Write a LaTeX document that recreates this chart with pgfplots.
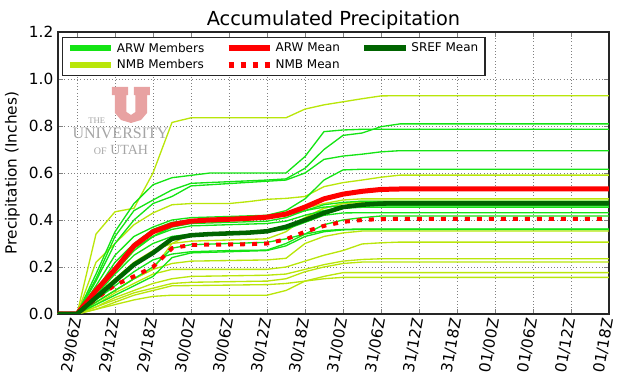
\documentclass[border=0pt]{standalone}
\usepackage{fontspec}
\setmainfont{DejaVu Sans}
\newfontfamily\logofont{Liberation Serif}
\usepackage{pgfplots}
\pgfplotsset{compat=1.18}
\definecolor{arwc}{RGB}{20,228,20}
\definecolor{nmbc}{RGB}{185,230,10}
\definecolor{srefc}{RGB}{0,100,0}
\definecolor{logored}{RGB}{232,162,162}
\definecolor{logogray}{RGB}{165,165,165}
\pgfplotsset{
  arw/.style={arwc, line width=1pt, forget plot},
  nmb/.style={nmbc, line width=1pt, forget plot},
}
\begin{document}
\begin{tikzpicture}
\useasboundingbox (-43.5pt,-48pt) rectangle (436.5pt,235.5pt);
\begin{axis}[
  at={(0,0)}, anchor=south west,
  scale only axis, width=413.25pt, height=211.5pt,
  xmin=3, xmax=90, ymin=0, ymax=1.2,
  xtick={6,12,18,24,30,36,42,48,54,60,66,72,78,84,90},
  xticklabels={29/06Z,29/12Z,29/18Z,30/00Z,30/06Z,30/12Z,30/18Z,31/00Z,31/06Z,31/12Z,31/18Z,01/00Z,01/06Z,01/12Z,01/18Z},
  ytick={0,0.2,0.4,0.6,0.8,1.0,1.2},
  yticklabel style={/pgf/number format/.cd, fixed, fixed zerofill, precision=1},
  /pgf/number format/assume math mode=true,
  tick label style={font=\fontsize{11.5}{13}\selectfont},
  xticklabel style={rotate=80, anchor=east},
  tick align=inside, tick pos=both,
  major tick length=4pt,
  grid=major, grid style={dotted, gray, line width=0.6pt},
  axis line style={black!85, line width=0.8pt},
  title={Accumulated Precipitation},
  title style={font=\fontsize{14.5}{16}\selectfont, yshift=-7.5pt},
  ylabel={Precipitation (Inches)},
  ylabel style={font=\fontsize{11.5}{13}\selectfont},
  no markers,
  legend columns=3,
  legend cell align=left,
  legend style={at={(0.008,0.982)}, anchor=north west, font=\fontsize{9}{11}\selectfont,
    draw=black!85, line width=0.8pt, fill=white,
    /tikz/every even column/.append style={column sep=14pt},
    inner xsep=3pt, inner ysep=2pt},
  legend image code/.code={\draw[#1] (0pt,0pt) -- (31pt,0pt);},
]
% watermark logo
\fill[logored] (11.526,0.966) -- (14.053,0.966) -- (14.053,0.9319) -- (13.816,0.9319)
  -- (13.816,0.8596) -- (14.526,0.8468) -- (15.237,0.8596) -- (15.237,0.9319)
  -- (15.0,0.9319) -- (15.0,0.966) -- (17.526,0.966) -- (17.526,0.9319)
  -- (17.053,0.9319) -- (17.053,0.8553) -- (16.105,0.8255) -- (14.526,0.8128)
  -- (12.947,0.8255) -- (12.0,0.8553) -- (12.0,0.9319) -- (11.526,0.9319) -- cycle;
\node[logogray, font=\logofont\fontsize{6.5}{7}\selectfont] at (9.11,0.823) {THE};
\node[logogray, font=\logofont\fontsize{12}{12}\selectfont] at (12.87,0.768) {UNIVERSITY};
\node[logogray, font=\logofont\fontsize{10.5}{11}\selectfont] at (12.95,0.696) {{\fontsize{7.5}{8}\selectfont OF} UTAH};

\addlegendimage{arwc, line width=4.5pt}\addlegendentry{ARW Members}
\addlegendimage{red, line width=4.5pt}\addlegendentry{ARW Mean}
\addlegendimage{srefc, line width=4.5pt}\addlegendentry{SREF Mean}
\addlegendimage{nmbc, line width=4.5pt}\addlegendentry{NMB Members}
\addlegendimage{red, line width=4.5pt, dash pattern=on 3.75pt off 5.25pt}\addlegendentry{NMB Mean}

% NMB members
\addplot[nmb] coordinates {(3,0)(6,0)(9,0.34)(12,0.435)(15,0.45)(18,0.60)(21,0.815)(24,0.835)(36,0.835)(39,0.835)(42,0.872)(45,0.89)(48,0.903)(51,0.916)(54,0.928)(57,0.929)(90,0.929)};
\addplot[nmb] coordinates {(3,0)(6,0)(9,0.22)(12,0.30)(15,0.38)(18,0.43)(21,0.465)(24,0.47)(30,0.47)(33,0.478)(36,0.488)(39,0.492)(42,0.50)(45,0.542)(48,0.559)(51,0.57)(54,0.582)(57,0.591)(90,0.591)};
\addplot[nmb] coordinates {(3,0)(6,0)(9,0.10)(12,0.18)(15,0.27)(18,0.33)(21,0.38)(24,0.40)(30,0.405)(36,0.41)(39,0.42)(42,0.45)(45,0.47)(48,0.485)(51,0.49)(90,0.49)};
\addplot[nmb] coordinates {(3,0)(6,0)(9,0.08)(12,0.15)(15,0.22)(18,0.27)(21,0.30)(24,0.31)(36,0.32)(39,0.35)(42,0.41)(45,0.45)(48,0.47)(51,0.48)(90,0.48)};
\addplot[nmb] coordinates {(3,0)(6,0)(9,0.05)(12,0.10)(15,0.15)(18,0.19)(21,0.30)(24,0.34)(30,0.345)(36,0.35)(39,0.37)(42,0.41)(45,0.45)(48,0.47)(51,0.475)(90,0.475)};
\addplot[nmb] coordinates {(3,0)(6,0)(9,0.05)(12,0.10)(15,0.15)(18,0.19)(21,0.215)(24,0.225)(36,0.23)(39,0.237)(42,0.30)(45,0.33)(48,0.345)(51,0.353)(90,0.353)};
\addplot[nmb] coordinates {(3,0)(6,0)(9,0.04)(12,0.09)(15,0.13)(18,0.17)(21,0.19)(24,0.19)(36,0.19)(39,0.20)(42,0.225)(45,0.25)(48,0.27)(51,0.298)(54,0.303)(57,0.306)(90,0.306)};
\addplot[nmb] coordinates {(3,0)(6,0)(9,0.03)(12,0.07)(15,0.10)(18,0.13)(21,0.15)(24,0.16)(36,0.165)(39,0.17)(42,0.19)(45,0.21)(48,0.225)(51,0.232)(54,0.235)(90,0.235)};
\addplot[nmb] coordinates {(3,0)(6,0)(9,0.03)(12,0.06)(15,0.09)(18,0.11)(21,0.13)(24,0.135)(36,0.14)(39,0.15)(42,0.18)(45,0.20)(48,0.215)(51,0.221)(90,0.221)};
\addplot[nmb] coordinates {(3,0)(6,0)(9,0.02)(12,0.04)(15,0.06)(18,0.075)(21,0.08)(36,0.08)(39,0.10)(42,0.14)(45,0.16)(48,0.176)(90,0.176)};
\addplot[nmb] coordinates {(3,0)(6,0)(9,0.02)(12,0.05)(15,0.08)(18,0.10)(21,0.12)(36,0.125)(39,0.13)(42,0.14)(45,0.15)(48,0.156)(90,0.156)};

% ARW members
\addplot[arw] coordinates {(3,0)(6,0)(9,0.15)(12,0.33)(15,0.44)(18,0.485)(21,0.528)(24,0.556)(30,0.563)(36,0.57)(39,0.575)(42,0.62)(45,0.70)(48,0.76)(51,0.77)(54,0.797)(57,0.809)(90,0.809)};
\addplot[arw] coordinates {(3,0)(6,0)(9,0.17)(12,0.35)(15,0.47)(18,0.55)(21,0.58)(24,0.59)(27,0.60)(39,0.60)(42,0.67)(45,0.776)(48,0.783)(51,0.786)(90,0.786)};
\addplot[arw] coordinates {(3,0)(6,0)(9,0.14)(12,0.30)(15,0.40)(18,0.47)(21,0.50)(24,0.545)(30,0.555)(36,0.565)(39,0.57)(42,0.60)(45,0.658)(48,0.672)(51,0.68)(54,0.69)(57,0.695)(90,0.695)};
\addplot[arw] coordinates {(3,0)(6,0)(9,0.12)(12,0.25)(15,0.33)(18,0.37)(21,0.40)(24,0.41)(36,0.42)(39,0.44)(42,0.49)(45,0.57)(48,0.613)(51,0.616)(90,0.616)};
\addplot[arw] coordinates {(3,0)(6,0)(9,0.10)(12,0.22)(15,0.30)(18,0.36)(21,0.39)(24,0.40)(30,0.405)(36,0.41)(39,0.42)(42,0.44)(45,0.455)(48,0.46)(90,0.46)};
\addplot[arw] coordinates {(3,0)(6,0)(9,0.09)(12,0.18)(15,0.27)(18,0.33)(21,0.36)(24,0.375)(30,0.38)(36,0.385)(39,0.395)(42,0.42)(45,0.44)(48,0.45)(51,0.454)(90,0.454)};
\addplot[arw] coordinates {(3,0)(6,0)(9,0.08)(12,0.17)(15,0.25)(18,0.30)(21,0.33)(24,0.34)(30,0.345)(36,0.35)(39,0.36)(42,0.39)(45,0.42)(48,0.43)(51,0.431)(90,0.431)};
\addplot[arw] coordinates {(3,0)(6,0)(9,0.06)(12,0.12)(15,0.18)(18,0.23)(21,0.255)(24,0.265)(30,0.27)(36,0.272)(39,0.30)(42,0.34)(45,0.38)(48,0.40)(51,0.41)(54,0.417)(90,0.417)};
\addplot[arw] coordinates {(3,0)(6,0)(9,0.05)(12,0.10)(15,0.15)(18,0.20)(21,0.28)(24,0.295)(30,0.30)(36,0.305)(39,0.32)(42,0.34)(45,0.355)(48,0.36)(51,0.362)(90,0.362)};
\addplot[arw] coordinates {(3,0)(6,0)(9,0.04)(12,0.08)(15,0.12)(18,0.16)(21,0.24)(24,0.26)(36,0.27)(39,0.29)(42,0.33)(45,0.35)(48,0.358)(51,0.36)(90,0.36)};
\addplot[arw] coordinates {(3,0)(6,0)(9,0.11)(12,0.20)(15,0.28)(18,0.33)(21,0.37)(24,0.385)(30,0.39)(36,0.395)(39,0.41)(42,0.44)(45,0.465)(48,0.475)(51,0.48)(90,0.48)};

% Means
\addplot[red, line width=3.75pt, line join=round, forget plot] coordinates {(3,0)(6,0)(9,0.10)(12,0.19)(15,0.29)(18,0.35)(21,0.38)(24,0.395)(27,0.40)(30,0.403)(33,0.407)(36,0.412)(39,0.425)(42,0.455)(45,0.49)(48,0.51)(51,0.522)(54,0.53)(57,0.532)(90,0.532)};
\addplot[red, line width=3pt, dash pattern=on 3.75pt off 5.25pt, forget plot] coordinates {(3,0)(6,0)(9,0.065)(12,0.123)(15,0.16)(18,0.20)(21,0.28)(24,0.294)(27,0.295)(30,0.296)(33,0.297)(36,0.30)(39,0.318)(42,0.35)(45,0.375)(48,0.392)(51,0.40)(54,0.404)(57,0.405)(90,0.405)};
\addplot[srefc, line width=3.4pt, line join=round, forget plot] coordinates {(3,0)(6,0)(9,0.07)(12,0.14)(15,0.21)(18,0.26)(21,0.32)(24,0.335)(27,0.34)(30,0.343)(33,0.346)(36,0.352)(39,0.371)(42,0.40)(45,0.43)(48,0.455)(51,0.465)(54,0.47)(57,0.471)(90,0.471)};
\end{axis}
\end{tikzpicture}
\end{document}
